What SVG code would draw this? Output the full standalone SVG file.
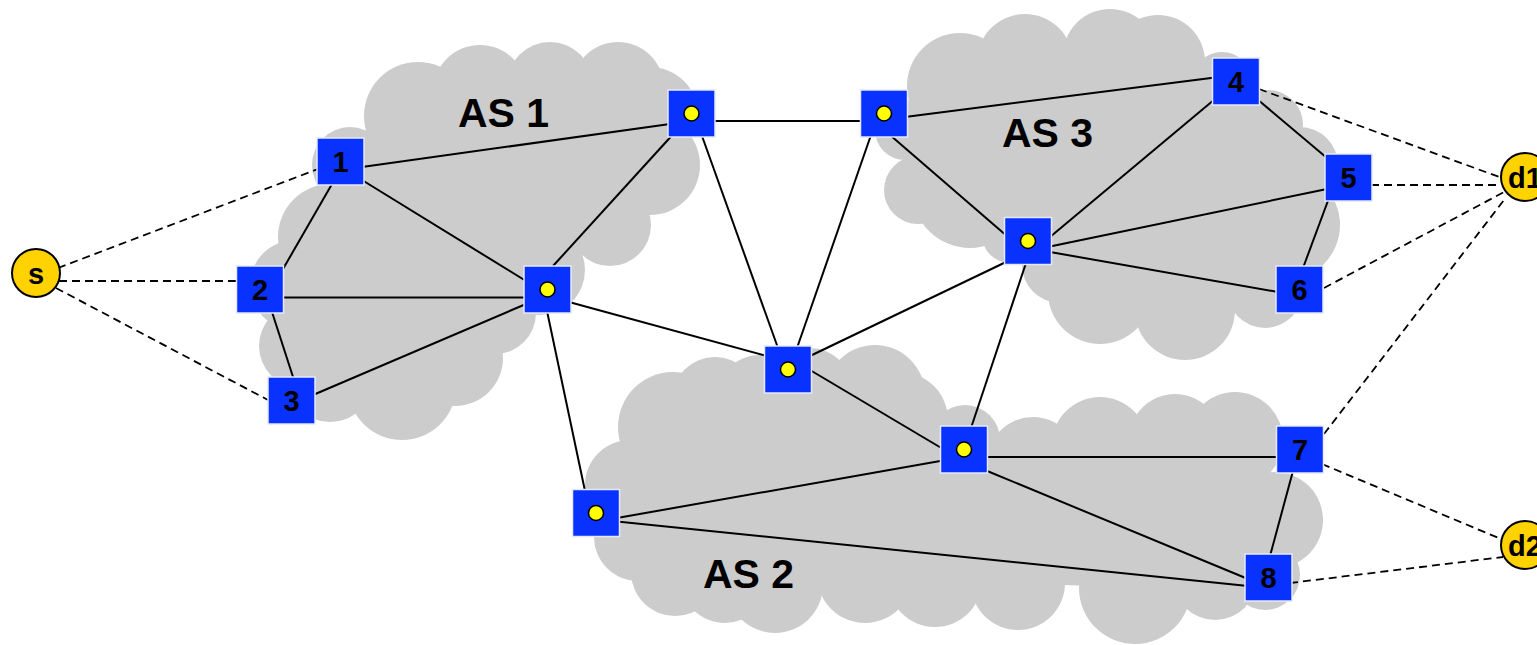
<svg xmlns="http://www.w3.org/2000/svg" width="1537" height="645" viewBox="0 0 1537 645">
<style>
.cloud{fill:#cccccc;stroke:none}
.link{stroke:#000;stroke-width:2;fill:none}
.dash{stroke:#000;stroke-width:1.8;stroke-dasharray:8 5;fill:none}
.box{fill:#0a32ff;stroke:#e4e9ff;stroke-width:1.5}
.dot{fill:#ffff00;stroke:#000;stroke-width:1.5}
.end{fill:#ffd200;stroke:#000;stroke-width:2}
.lbl{font-family:"Liberation Sans",Arial,sans-serif;font-weight:bold;font-size:29px;fill:#000;text-anchor:middle}
.as{font-family:"Liberation Sans",Arial,sans-serif;font-weight:bold;font-size:41px;fill:#000}
</style>
<rect width="1537" height="645" fill="#fff"/>
<g id="clouds" class="cloud">
<g id="cloud-as1">
<polygon points="418,116 480,92 550,85 618,88 650,115 650,165 610,225 540,270 495,313 455,358 402,386 330,378 301,346 295,285 331,237 350,165"/>
<circle cx="418" cy="116" r="54"/><circle cx="480" cy="92" r="47"/><circle cx="550" cy="85" r="43"/><circle cx="618" cy="88" r="46"/>
<circle cx="650" cy="115" r="48"/><circle cx="650" cy="165" r="50"/><circle cx="610" cy="225" r="41"/><circle cx="540" cy="270" r="45"/>
<circle cx="495" cy="313" r="41"/><circle cx="455" cy="358" r="48"/><circle cx="402" cy="386" r="54"/><circle cx="330" cy="378" r="44"/>
<circle cx="301" cy="346" r="42"/><circle cx="295" cy="285" r="45"/><circle cx="331" cy="237" r="53"/><circle cx="350" cy="165" r="38"/>
</g>
<g id="cloud-as2">
<polygon points="673,427 715,400 760,400 810,390 875,395 900,420 965,440 1033,463 1100,445 1175,440 1235,440 1275,520 1265,575 1215,578 1135,588 1018,583 935,580 865,575 775,585 725,578 675,572 638,537 630,485"/>
<circle cx="673" cy="427" r="55"/><circle cx="715" cy="400" r="43"/><circle cx="760" cy="400" r="45"/><circle cx="810" cy="390" r="42"/>
<circle cx="875" cy="395" r="50"/><circle cx="900" cy="420" r="48"/><circle cx="965" cy="440" r="35"/><circle cx="1033" cy="463" r="46"/>
<circle cx="1100" cy="445" r="48"/><circle cx="1175" cy="440" r="46"/><circle cx="1235" cy="440" r="48"/><circle cx="1275" cy="520" r="48"/>
<circle cx="1265" cy="575" r="35"/><circle cx="1215" cy="578" r="42"/><circle cx="1135" cy="588" r="56"/><circle cx="1018" cy="583" r="47"/>
<circle cx="935" cy="580" r="47"/><circle cx="865" cy="575" r="48"/><circle cx="775" cy="585" r="48"/><circle cx="725" cy="578" r="45"/>
<circle cx="675" cy="572" r="44"/><circle cx="638" cy="537" r="44"/><circle cx="630" cy="485" r="45"/>
</g>
<g id="cloud-as3">
<polygon points="905,130 960,86 1025,62 1110,56 1158,62 1222,82 1268,125 1300,165 1285,225 1265,290 1185,310 1100,292 1060,265 1010,235 970,190 918,190"/>
<circle cx="905" cy="130" r="30"/><circle cx="960" cy="86" r="53"/><circle cx="1025" cy="62" r="48"/><circle cx="1110" cy="56" r="47"/>
<circle cx="1158" cy="62" r="47"/><circle cx="1222" cy="82" r="30"/><circle cx="1268" cy="125" r="35"/><circle cx="1300" cy="165" r="38"/>
<circle cx="1285" cy="225" r="55"/><circle cx="1265" cy="290" r="38"/><circle cx="1185" cy="310" r="50"/><circle cx="1100" cy="292" r="52"/>
<circle cx="1060" cy="265" r="38"/><circle cx="1010" cy="235" r="28"/><circle cx="970" cy="190" r="58"/><circle cx="918" cy="190" r="34"/>
</g>
</g>
<g id="as-labels">
<text class="as" x="458" y="127">AS 1</text>
<text class="as" x="703" y="588">AS 2</text>
<text class="as" x="1002" y="147">AS 3</text>
</g>
<g id="connectors">
<line class="link" x1="362" y1="167" x2="670" y2="124"/>
<line class="link" x1="362" y1="180" x2="526" y2="281"/>
<line class="link" x1="332" y1="184" x2="283" y2="269"/>
<line class="link" x1="281" y1="297.5" x2="526" y2="297.5"/>
<line class="link" x1="272" y1="312" x2="294" y2="380"/>
<line class="link" x1="313" y1="395" x2="526" y2="304"/>
<line class="link" x1="671" y1="136.5" x2="553" y2="266"/>
<line class="link" x1="702" y1="136" x2="778" y2="348"/>
<line class="link" x1="713" y1="121" x2="863" y2="121"/>
<line class="link" x1="569" y1="302" x2="767" y2="356"/>
<line class="link" x1="547" y1="311" x2="585" y2="491"/>
<line class="link" x1="871" y1="135" x2="797" y2="348"/>
<line class="link" x1="905" y1="117" x2="1215" y2="77.5"/>
<line class="link" x1="890" y1="135" x2="1008" y2="237"/>
<line class="link" x1="1050" y1="237" x2="1215" y2="99"/>
<line class="link" x1="1050" y1="246.5" x2="1327" y2="189"/>
<line class="link" x1="1050" y1="252" x2="1278" y2="292"/>
<line class="link" x1="1006" y1="262" x2="810" y2="356"/>
<line class="link" x1="1026" y1="263" x2="971" y2="428"/>
<line class="link" x1="1257" y1="99" x2="1327" y2="158"/>
<line class="link" x1="1329" y1="198" x2="1303" y2="268"/>
<line class="link" x1="810" y1="370" x2="943" y2="449"/>
<line class="link" x1="617" y1="518" x2="943" y2="460.5"/>
<line class="link" x1="617" y1="521.5" x2="1248" y2="586"/>
<line class="link" x1="986" y1="457" x2="1278" y2="457"/>
<line class="link" x1="986" y1="470.5" x2="1248" y2="579"/>
<line class="link" x1="1293" y1="471" x2="1270" y2="556"/>
<line class="dash" x1="58" y1="268" x2="318" y2="169"/>
<line class="dash" x1="59" y1="281" x2="238" y2="281"/>
<line class="dash" x1="56" y1="288" x2="268" y2="400"/>
<line class="dash" x1="1259" y1="89" x2="1502" y2="178"/>
<line class="dash" x1="1371" y1="185" x2="1501" y2="185"/>
<line class="dash" x1="1324" y1="288" x2="1504" y2="192"/>
<line class="dash" x1="1324" y1="434" x2="1504" y2="200"/>
<line class="dash" x1="1322" y1="464" x2="1501" y2="539"/>
<line class="dash" x1="1290" y1="583" x2="1503" y2="557"/>
</g>
<g id="s"><circle class="end" cx="36" cy="273" r="24"/><text class="lbl" x="36" y="283.5">s</text></g>
<g id="d1"><circle class="end" cx="1525" cy="177" r="24"/><text class="lbl" x="1525" y="187.5">d1</text></g>
<g id="d2"><circle class="end" cx="1525" cy="545" r="24"/><text class="lbl" x="1525" y="555.5">d2</text></g>
<g id="n1"><rect class="box" x="317" y="138" width="47" height="47"/><text class="lbl" x="340.5" y="172">1</text></g>
<g id="n2"><rect class="box" x="236.5" y="266" width="47" height="47"/><text class="lbl" x="260" y="300">2</text></g>
<g id="n3"><rect class="box" x="268" y="377" width="47" height="47"/><text class="lbl" x="291.5" y="411">3</text></g>
<g id="n4"><rect class="box" x="1212.5" y="58" width="47" height="47"/><text class="lbl" x="1236" y="92">4</text></g>
<g id="n5"><rect class="box" x="1325" y="154" width="47" height="47"/><text class="lbl" x="1348.5" y="188">5</text></g>
<g id="n6"><rect class="box" x="1276" y="266" width="47" height="47"/><text class="lbl" x="1299.5" y="300">6</text></g>
<g id="n7"><rect class="box" x="1276.5" y="426" width="47" height="47"/><text class="lbl" x="1300" y="460">7</text></g>
<g id="n8"><rect class="box" x="1245" y="554" width="47" height="47"/><text class="lbl" x="1268.5" y="588">8</text></g>
<g id="rA"><rect class="box" x="668" y="90" width="47" height="47"/><circle class="dot" cx="691.5" cy="113.5" r="7.5"/></g>
<g id="rB"><rect class="box" x="524" y="266" width="47" height="47"/><circle class="dot" cx="547.5" cy="289.5" r="7.5"/></g>
<g id="rC"><rect class="box" x="860.5" y="90" width="47" height="47"/><circle class="dot" cx="884" cy="113.5" r="7.5"/></g>
<g id="rD"><rect class="box" x="1004.5" y="217.5" width="47" height="47"/><circle class="dot" cx="1028" cy="241" r="7.5"/></g>
<g id="rE"><rect class="box" x="764.5" y="346" width="47" height="47"/><circle class="dot" cx="788" cy="369.5" r="7.5"/></g>
<g id="rF"><rect class="box" x="940.5" y="426" width="47" height="47"/><circle class="dot" cx="964" cy="449.5" r="7.5"/></g>
<g id="rG"><rect class="box" x="572.5" y="489.5" width="47" height="47"/><circle class="dot" cx="596" cy="513" r="7.5"/></g>
</svg>
